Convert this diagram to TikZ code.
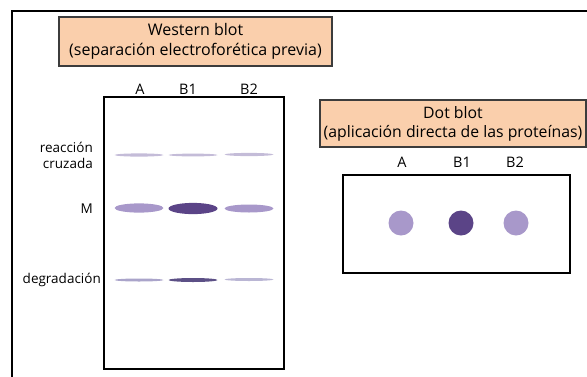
\documentclass[tikz,border=0pt]{standalone}
\usepackage{fontspec}
\setmainfont{Open Sans}
\definecolor{peach}{RGB}{250,207,172}
\definecolor{boxline}{RGB}{60,60,60}
\definecolor{lightband}{RGB}{168,152,202}
\definecolor{darkband}{RGB}{91,68,135}
\definecolor{faintband}{RGB}{196,188,216}
\definecolor{degA}{RGB}{170,164,202}
\definecolor{degB}{RGB}{92,80,134}
\definecolor{degC}{RGB}{186,182,212}
\tikzset{
  titlebox/.style={draw=boxline, line width=1.1pt, fill=peach, inner sep=0pt, align=center,
    font=\fontsize{16}{20}\selectfont},
  lanelabel/.style={inner sep=0pt, font=\fontsize{14.5}{16}\selectfont},
  sidelabel/.style={inner sep=0pt, anchor=east, align=right, font=\fontsize{13.5}{16}\selectfont},
  membrane/.style={draw=black, line width=2.4pt},
}
\begin{document}
\begin{tikzpicture}[x=1pt, y=-1pt]
\useasboundingbox (0,0) rectangle (587,376);
% outer frame (cut by the picture edges)
\draw[line width=1.8pt, black] (12,380) -- (12,11) -- (590,11);

% Western blot
\node[titlebox, minimum width=273pt, minimum height=49pt] (wbtitle) at (195.5,41.5)
  {Western blot\\(separación electroforética previa)};
\node[lanelabel] (wA) at (140,89) {A};
\node[lanelabel] (wB1) at (188,89) {B1};
\node[lanelabel] (wB2) at (249,89) {B2};
\draw[membrane] (104,97) rectangle (284,369);

\node[sidelabel] (lrc) at (93,155) {reacción\\cruzada};
\node[sidelabel] (lm) at (93,209) {M};
\node[sidelabel] (ldeg) at (101,280) {degradación};

% cross-reaction bands
\fill[faintband] (139,155) ellipse [x radius=24.5, y radius=1.6];
\fill[faintband] (193,155) ellipse [x radius=24.5, y radius=1.4];
\fill[faintband] (249,154.5) ellipse [x radius=24.5, y radius=1.6];
% M bands
\fill[lightband] (139,208) ellipse [x radius=24.5, y radius=4.6];
\fill[darkband] (193,208.5) ellipse [x radius=24.5, y radius=5.6];
\fill[lightband] (249,208.5) ellipse [x radius=24.5, y radius=4];
% degradation bands
\fill[degA] (139,280) ellipse [x radius=24.5, y radius=1.5];
\fill[degB] (193,280) ellipse [x radius=24.5, y radius=2];
\fill[degC] (249,279.5) ellipse [x radius=24.5, y radius=1.5];

% Dot blot
\node[titlebox, minimum width=266pt, minimum height=47pt, font=\fontsize{15.8}{19}\selectfont] (dbtitle) at (453,123.5)
  {Dot blot\\(aplicación directa de las proteínas)};
\node[lanelabel] (dA) at (402,162) {A};
\node[lanelabel] (dB1) at (462,162) {B1};
\node[lanelabel] (dB2) at (515,162) {B2};
\draw[membrane] (343,175) rectangle (570,273);
\fill[lightband] (401,223) circle [radius=12.5];
\fill[darkband] (461,223) circle [radius=12.5];
\fill[lightband] (516,223) circle [radius=12.5];
\end{tikzpicture}
\end{document}
